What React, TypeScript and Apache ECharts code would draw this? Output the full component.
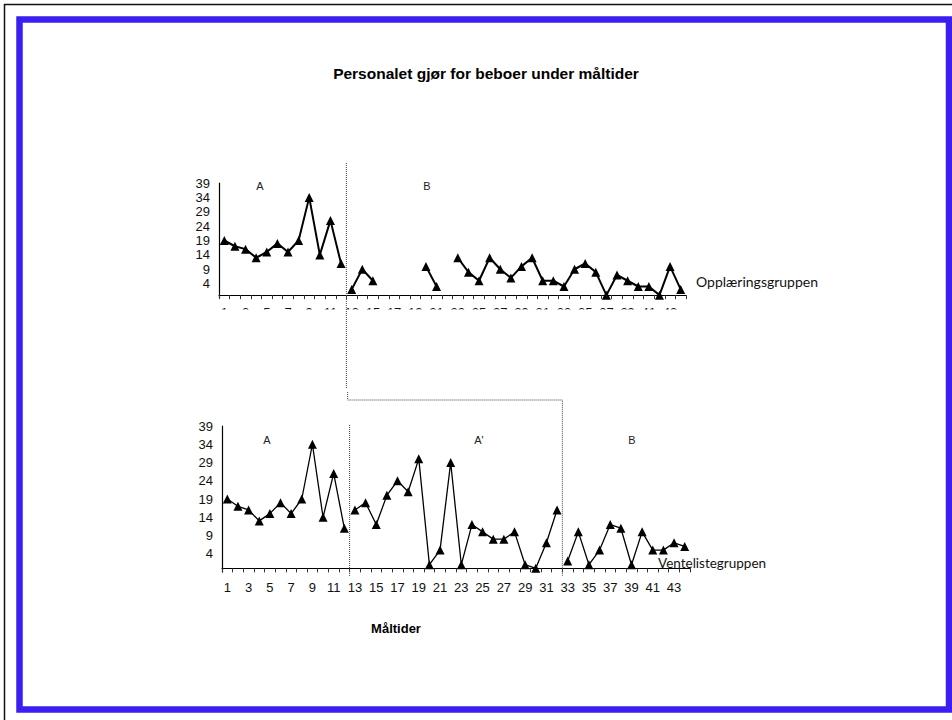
import React, { useEffect, useRef } from "react";
import * as echarts from "echarts";

// ---- data ----
const sessions = [
  "1", "2", "3", "4", "5", "6", "7", "8", "9", "10", "11",
  "12", "13", "14", "15", "16", "17", "18", "19", "20", "21", "22",
  "23", "24", "25", "26", "27", "28", "29", "30", "31", "32", "33",
  "34", "35", "36", "37", "38", "39", "40", "41", "42", "43", "44",
];

// Opplæringsgruppen (top panel)
const topValues: (number | null)[] = [
  19, 17, 16, 13, 15, 18, 15, 19, 34, 14, 26, 11,
  2, 9, 5, null, null, null, null, 10, 3, null, 13, 8, 5, 13, 9, 6, 10, 13, 5, 5,
  3, 9, 11, 8, 0, 7, 5, 3, 3, 0, 10, 2,
];

// Ventelistegruppen (bottom panel)
const bottomValues: (number | null)[] = [
  19, 17, 16, 13, 15, 18, 15, 19, 34, 14, 26, 11,
  16, 18, 12, 20, 24, 21, 30, 1, 5, 29, 1, 12, 10, 8, 8, 10, 1, 0, 7, 16,
  2, 10, 1, 5, 12, 11, 1, 10, 5, 5, 7, 6,
];

const topPhases = [
  { label: "A", start: 1, end: 12 },
  { label: "B", start: 13, end: 44 },
];
const bottomPhases = [
  { label: "A", start: 1, end: 12 },
  { label: "A'", start: 13, end: 32 },
  { label: "B", start: 33, end: 44 },
];

const yTickLabels = [4, 9, 14, 19, 24, 29, 34, 39];

const titleText = "Personalet gjør for beboer under måltider";
const xAxisTitle = "Måltider";
const topGroupName = "Opplæringsgruppen";
const bottomGroupName = "Ventelistegruppen";

const FONT = "'Liberation Sans', Arial, Helvetica, sans-serif";

function buildSeries(
  values: (number | null)[],
  phases: { start: number; end: number }[],
  idx: number,
  lw: number
) {
  return phases.map((p) => ({
    type: "line",
    xAxisIndex: idx,
    yAxisIndex: idx,
    data: values.map((v, i) => (i + 1 >= p.start && i + 1 <= p.end ? v : null)),
    connectNulls: false,
    symbol: "triangle",
    symbolSize: 9,
    showSymbol: true,
    showAllSymbol: true,
    lineStyle: { color: "#000", width: lw },
    itemStyle: { color: "#000" },
    emphasis: { disabled: true },
    z: 3,
  }));
}

function xAxis(idx: number, labelMargin: number) {
  return {
    type: "category",
    gridIndex: idx,
    data: sessions,
    boundaryGap: true,
    axisLine: { lineStyle: { color: "#000", width: 1.2 } },
    axisTick: { show: true, interval: 0, length: 4, lineStyle: { color: "#333" } },
    axisLabel: {
      interval: 1,
      fontSize: 13,
      color: "#111",
      margin: labelMargin,
      fontFamily: FONT,
    },
    splitLine: { show: false },
  };
}

function yAxis(idx: number) {
  return {
    type: "value",
    gridIndex: idx,
    min: -1,
    max: 39,
    axisLine: { show: true, lineStyle: { color: "#000", width: 1.2 } },
    axisTick: { show: false },
    splitLine: { show: false },
    axisLabel: {
      customValues: yTickLabels,
      fontSize: 13,
      color: "#111",
      margin: 9,
      fontFamily: FONT,
    },
  };
}

export default function App() {
  const ref = useRef<HTMLDivElement>(null);

  useEffect(() => {
    if (!ref.current) return;
    const chart = echarts.init(ref.current, undefined, { renderer: "svg" });

    chart.setOption({
      animation: false,
      backgroundColor: "#fff",
      grid: [
        { left: 219, top: 183, width: 467, height: 115 },
        { left: 222, top: 426, width: 468, height: 146 },
      ],
      xAxis: [xAxis(0, 8), xAxis(1, 9)],
      yAxis: [yAxis(0), yAxis(1)],
      series: [
        ...buildSeries(topValues, topPhases, 0, 2),
        ...buildSeries(bottomValues, bottomPhases, 1, 1.3),
      ],
    });

    // phase boundaries from the axes
    const px = (grid: number, cat: number) =>
      chart.convertToPixel({ xAxisIndex: grid }, sessions[cat - 1]) as number;
    const boundary = (grid: number, lastOfPhase: number) =>
      (px(grid, lastOfPhase) + px(grid, lastOfPhase + 1)) / 2;

    const tB = boundary(0, topPhases[0].end);
    const b1 = boundary(1, bottomPhases[0].end);
    const b2 = boundary(1, bottomPhases[1].end);

    const dot = { stroke: "#444", lineWidth: 1, lineDash: [1, 1] };
    const phaseTxt = (text: string, x: number, y: number) => ({
      type: "text",
      x,
      y,
      z: 20,
      style: {
        text,
        fill: "#222",
        font: `11px ${FONT}`,
        textAlign: "center",
        textVerticalAlign: "middle",
      },
    });

    chart.setOption({
      graphic: [
        // outer black frame
        {
          type: "rect",
          z: 1,
          shape: { x: 4.5, y: 4.5, width: 980, height: 760 },
          style: { fill: "none", stroke: "#111", lineWidth: 1.5 },
        },
        // blue frame
        {
          type: "rect",
          z: 1,
          shape: { x: 19.5, y: 19.5, width: 929.5, height: 690 },
          style: { fill: "none", stroke: "#3b1ef0", lineWidth: 6.5 },
        },
        // hide lower part of the top panel's tick labels
        {
          type: "rect",
          z: 10,
          shape: { x: 205, y: 309.5, width: 495, height: 22 },
          style: { fill: "#fff" },
        },
        // dotted phase lines
        { type: "line", z: 11, shape: { x1: tB, y1: 163, x2: tB, y2: 388 }, style: dot },
        {
          type: "polyline",
          z: 11,
          shape: {
            points: [
              [b1 - 2, 392],
              [b1 - 2, 400],
              [b2, 400],
              [b2, 576],
            ],
          },
          style: { ...dot, fill: "none" },
        },
        { type: "line", z: 11, shape: { x1: b1, y1: 425, x2: b1, y2: 576 }, style: dot },
        // title
        {
          type: "text",
          x: 486,
          y: 73,
          z: 20,
          style: {
            text: titleText,
            fill: "#000",
            font: `bold 15.5px ${FONT}`,
            textAlign: "center",
            textVerticalAlign: "middle",
          },
        },
        // x-axis title
        {
          type: "text",
          x: 396,
          y: 628,
          z: 20,
          style: {
            text: xAxisTitle,
            fill: "#000",
            font: `bold 13px ${FONT}`,
            textAlign: "center",
            textVerticalAlign: "middle",
          },
        },
        // group names
        {
          type: "text",
          x: 696,
          y: 281,
          z: 20,
          style: {
            text: topGroupName,
            fill: "#111",
            font: "14px Lato, 'Open Sans', sans-serif",
            textAlign: "left",
            textVerticalAlign: "middle",
          },
        },
        {
          type: "text",
          x: 658,
          y: 563,
          z: 20,
          style: {
            text: bottomGroupName,
            fill: "#111",
            font: "13.5px Lato, 'Open Sans', sans-serif",
            textAlign: "left",
            textVerticalAlign: "middle",
          },
        },
        // phase labels
        phaseTxt(topPhases[0].label, 260, 186),
        phaseTxt(topPhases[1].label, 427, 186),
        phaseTxt(bottomPhases[0].label, 267, 440),
        phaseTxt(bottomPhases[1].label, 479, 440),
        phaseTxt(bottomPhases[2].label, 632, 440),
      ],
    });

    return () => chart.dispose();
  }, []);

  return (
    <div
      ref={ref}
      style={{ position: "absolute", left: 0, top: 0, width: 952, height: 720 }}
    />
  );
}
